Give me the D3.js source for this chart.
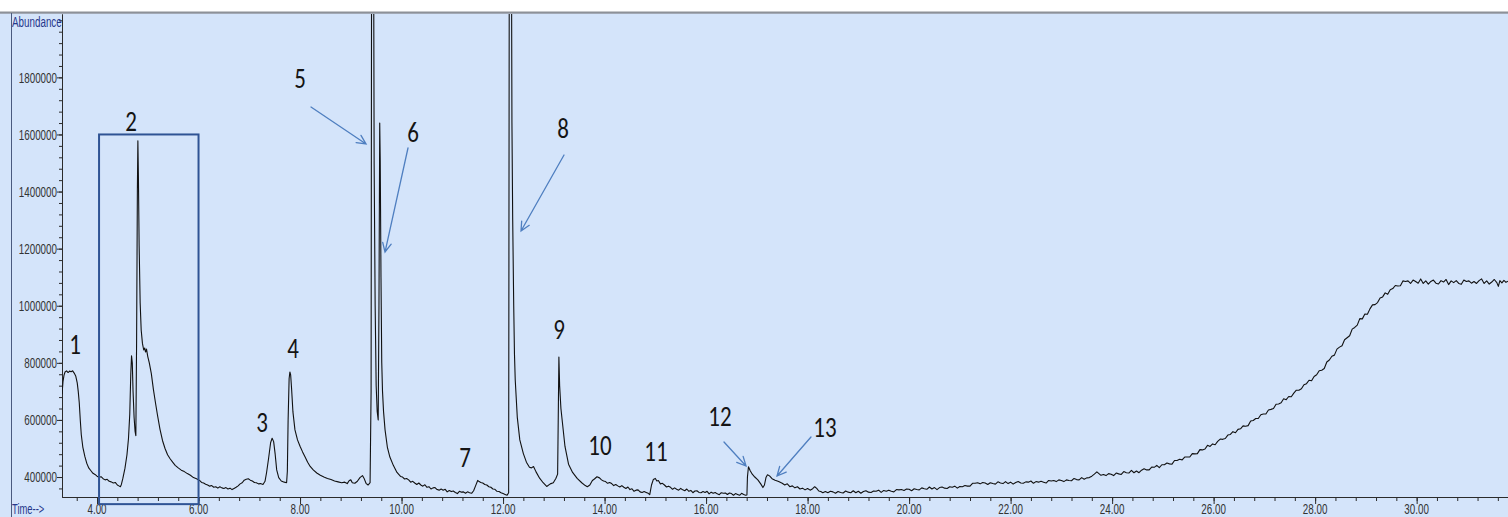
<!DOCTYPE html>
<html>
<head>
<meta charset="utf-8">
<script src="https://cdn.jsdelivr.net/npm/d3@7"></script>
<style>
  html, body { margin: 0; padding: 0; background: #ffffff; overflow: hidden; }
  svg { display: block; }
</style>
</head>
<body>
<svg id="chart" width="1508" height="517"></svg>
<script>
// ---- Total ion chromatogram: retention time (min) vs abundance ----

// Solvent front and the boxed cluster (peaks 1 and 2)
const traceEarly = [
  [3.31,690000],[3.33,735000],[3.35,757000],[3.37,768000],[3.40,772000],[3.43,766000],[3.46,771000],
  [3.49,769000],[3.52,772000],[3.55,764000],[3.58,754000],[3.61,730000],[3.63,700000],[3.65,660000],
  [3.67,600000],[3.69,548000],[3.72,505000],[3.76,472000],[3.80,447000],[3.84,431000],[3.88,422000],
  [3.92,413000],[3.96,409000],[4.00,403000],[4.04,399000],[4.08,401000],[4.12,394000],[4.16,390000],
  [4.20,392000],[4.24,385000],[4.28,383000],[4.32,379000],[4.36,381000],[4.40,372000],[4.43,369000],
  [4.46,366000],[4.48,374000],[4.51,396000],[4.55,430000],[4.59,478000],[4.62,535000],[4.645,620000],
  [4.665,760000],[4.68,825000],[4.695,800000],[4.71,700000],[4.73,610000],[4.75,560000],[4.765,545000],
  [4.78,880000],[4.795,1400000],[4.805,1578000],[4.815,1460000],[4.83,1210000],[4.85,1010000],
  [4.87,915000],[4.895,868000],[4.92,845000],[4.94,852000],[4.955,838000],[4.975,848000],[5.00,822000],
  [5.03,800000],[5.07,762000],[5.11,708000],[5.15,662000],[5.19,618000],[5.24,568000],[5.29,528000],
  [5.34,500000],[5.39,478000],[5.44,464000],[5.49,452000],[5.54,441000],[5.60,432000],[5.66,424000],
  [5.72,419000],[5.78,412000],[5.84,406000],[5.90,398000],[5.96,394000]
];

// Peaks 3 and 4
const traceMid = [
  [6.02,388000],[6.06,381000],[6.10,379000],[6.14,375000],[6.18,372000],[6.22,368000],[6.26,370000],
  [6.30,364000],[6.34,366000],[6.38,361000],[6.42,366000],[6.46,362000],[6.50,360000],[6.54,363000],
  [6.58,358000],[6.62,361000],[6.66,356000],[6.70,360000],[6.74,364000],[6.78,369000],[6.82,376000],
  [6.86,380000],[6.90,389000],[6.94,392000],[6.98,394000],[7.02,389000],[7.06,386000],[7.10,381000],
  [7.14,380000],[7.18,376000],[7.22,377000],[7.27,374000],
  [7.31,385000],[7.34,415000],[7.38,465000],[7.42,520000],[7.45,536000],
  [7.48,524000],[7.51,480000],[7.54,425000],[7.58,398000],[7.63,386000],[7.69,382000],[7.735,380000],
  [7.75,420000],[7.765,600000],[7.785,745000],[7.80,768000],[7.815,758000],[7.835,705000],[7.86,628000],
  [7.90,565000],[7.95,530000],[8.00,508000],[8.05,488000],[8.10,470000],[8.15,452000],[8.20,437000],
  [8.26,425000],[8.33,414000],[8.40,406000],[8.47,400000],[8.54,395000],[8.61,391000],[8.68,386000],
  [8.75,383000],[8.82,380000],[8.88,382000],[8.93,377000],[8.97,388000],[9.00,390000],[9.03,380000],
  [9.08,378000],[9.13,385000],[9.18,398000],[9.23,405000],[9.26,396000],[9.30,378000],[9.34,372000],
  [9.38,380000]
];

// Peaks 5, 6 and 7
const traceMajor = [
  [9.40,700000],[9.412,2600000],[9.445,2600000],[9.46,1500000],[9.48,1000000],[9.50,720000],
  [9.52,630000],[9.54,600000],[9.555,1000000],[9.57,1640000],[9.58,1510000],[9.595,1100000],
  [9.61,800000],[9.625,700000],[9.645,630000],[9.675,565000],[9.72,505000],[9.77,470000],[9.84,440000],
  [9.91,416000],[9.98,402000],[10.02,400000],[10.06,393000],[10.10,395000],[10.14,390000],
  [10.18,382000],[10.22,385000],[10.26,379000],[10.30,374000],[10.34,379000],[10.38,372000],
  [10.42,368000],[10.46,373000],[10.50,364000],[10.54,366000],[10.58,358000],[10.62,362000],
  [10.66,363000],[10.70,356000],[10.74,354000],[10.78,358000],[10.82,354000],[10.86,357000],
  [10.90,348000],[10.94,353000],[10.98,349000],[11.02,351000],[11.06,346000],[11.10,342000],
  [11.14,350000],[11.18,347000],[11.22,348000],[11.26,343000],[11.30,348000],[11.34,345000],
  [11.38,343000],[11.42,352000],[11.46,370000],[11.50,388000],[11.53,384000],[11.56,381000],
  [11.60,379000],[11.64,374000],[11.68,372000],[11.72,366000],[11.76,364000],[11.80,358000],
  [11.84,357000],[11.88,350000],[11.92,349000],[11.96,345000],[12.00,342000],[12.04,339000],
  [12.08,336000]
];

// Peaks 8 to 11
const traceLate = [
  [12.11,345000],[12.125,2600000],[12.16,2600000],[12.175,1640000],[12.19,1300000],[12.21,1000000],
  [12.225,830000],[12.24,740000],[12.28,610000],[12.33,530000],[12.40,482000],[12.46,452000],
  [12.52,434000],[12.56,432000],[12.60,437000],[12.65,418000],[12.72,396000],[12.79,380000],
  [12.86,367000],[12.93,376000],[12.99,380000],[13.04,395000],[13.075,410000],[13.09,650000],
  [13.10,820000],[13.115,720000],[13.14,640000],[13.17,590000],[13.22,507000],[13.29,445000],
  [13.37,416000],[13.46,395000],[13.55,380000],[13.62,370000],[13.66,366000],[13.71,372000],
  [13.76,388000],[13.80,393000],[13.85,401000],[13.90,397000],[13.94,390000],[13.98,386000],
  [14.02,384000],[14.06,378000],[14.10,381000],[14.14,377000],[14.18,370000],[14.22,374000],
  [14.26,369000],[14.30,365000],[14.34,370000],[14.38,364000],[14.42,360000],[14.46,365000],
  [14.50,356000],[14.54,359000],[14.58,350000],[14.62,354000],[14.66,355000],[14.70,348000],
  [14.74,346000],[14.78,349000],[14.82,346000],[14.86,343000],[14.89,338000],[14.925,372000],
  [14.96,391000],[15.00,395000],[15.03,386000],[15.06,388000],[15.10,376000],[15.14,378000],
  [15.18,372000],[15.22,365000],[15.26,368000],[15.30,364000],[15.34,357000],[15.38,362000],
  [15.42,357000],[15.46,354000],[15.50,360000],[15.54,355000],[15.58,352000],[15.62,358000],
  [15.66,350000],[15.70,353000],[15.74,345000],[15.78,351000],[15.82,352000],[15.86,346000],
  [15.90,345000],[15.94,349000],[15.98,346000],[16.02,350000],[16.06,341000],[16.10,347000],
  [16.14,343000],[16.18,346000],[16.22,341000],[16.26,338000],[16.30,345000],[16.34,343000],
  [16.38,344000],[16.42,339000],[16.46,344000],[16.50,342000],[16.54,336000],[16.58,342000],
  [16.62,339000],[16.66,336000],[16.70,343000],[16.74,339000],[16.78,336000],[16.805,337000]
];

// Peaks 12 and 13
const traceSmallPeaks = [
  [16.815,400000],[16.835,436000],[16.87,422000],[16.91,410000],[16.96,400000],[17.02,390000],
  [17.08,375000],[17.12,363000],[17.15,372000],[17.18,398000],[17.21,408000],[17.25,404000],
  [17.30,394000],[17.36,389000],[17.43,384000]
];

// Rising baseline and plateau (values in thousands)
const traceTailK = [
  [17.50,378],[17.55,372],[17.60,376],[17.65,366],[17.70,369],[17.75,362],[17.80,366],[17.85,358],
  [17.90,361],[17.95,355],[18.00,360],[18.05,354],[18.10,359],[18.14,366],[18.18,360],[18.22,351],
  [18.26,349],[18.30,345],[18.35,349],[18.40,345],[18.45,350],[18.50,348],[18.55,343],[18.60,349],
  [18.65,346],[18.70,344],[18.75,351],[18.80,347],[18.85,345],[18.90,352],[18.95,345],[19.00,350],
  [19.05,343],[19.10,349],[19.15,352],[19.20,347],[19.25,346],[19.30,351],[19.35,350],[19.40,354],
  [19.45,346],[19.50,353],[19.55,350],[19.60,354],[19.65,350],[19.70,348],[19.75,356],[19.80,355],
  [19.85,356],[19.90,353],[19.95,358],[20.00,357],[20.05,352],[20.10,359],[20.15,356],[20.20,355],
  [20.25,362],[20.30,359],[20.35,357],[20.40,365],[20.45,358],[20.50,363],[20.55,356],[20.60,363],
  [20.65,365],[20.70,361],[20.75,360],[20.80,366],[20.85,364],[20.90,368],[20.95,361],[21.00,367],
  [21.05,366],[21.10,370],[21.15,368],[21.20,368],[21.25,378],[21.30,378],[21.35,380],[21.40,376],
  [21.45,381],[21.50,379],[21.55,374],[21.60,380],[21.65,377],[21.70,375],[21.75,383],[21.80,379],
  [21.85,377],[21.90,384],[21.95,377],[22.00,382],[22.05,375],[22.10,381],[22.15,384],[22.20,379],
  [22.25,378],[22.30,383],[22.35,382],[22.40,386],[22.45,378],[22.50,384],[22.55,382],[22.60,385],
  [22.65,382],[22.70,379],[22.75,388],[22.80,386],[22.85,388],[22.90,384],[22.95,390],[23.00,388],
  [23.05,384],[23.10,390],[23.15,388],[23.20,387],[23.25,395],[23.30,391],[23.35,390],[23.40,398],
  [23.45,392],[23.50,397],[23.55,398],[23.60,403],[23.65,410],[23.70,418],[23.74,412],[23.78,406],
  [23.83,409],[23.88,405],[23.93,412],[23.98,410],[24.03,405],[24.08,414],[24.13,411],[24.18,409],
  [24.23,419],[24.28,415],[24.33,414],[24.38,423],[24.43,415],[24.48,421],[24.53,415],[24.58,424],
  [24.63,429],[24.68,425],[24.73,425],[24.78,435],[24.83,434],[24.88,441],[24.93,433],[24.98,443],
  [25.03,443],[25.08,449],[25.13,446],[25.18,445],[25.23,458],[25.28,458],[25.33,462],[25.38,460],
  [25.43,470],[25.48,470],[25.53,470],[25.58,482],[25.63,481],[25.68,482],[25.73,496],[25.78,495],
  [25.83,498],[25.88,511],[25.93,507],[25.98,516],[26.03,513],[26.08,525],[26.13,533],[26.18,532],
  [26.23,535],[26.28,547],[26.33,549],[26.38,559],[26.43,555],[26.48,567],[26.53,569],[26.58,579],
  [26.63,578],[26.68,580],[26.73,596],[26.78,598],[26.83,605],[26.88,605],[26.93,618],[26.98,621],
  [27.03,621],[27.08,635],[27.13,637],[27.18,640],[27.23,655],[27.28,656],[27.33,660],[27.38,674],
  [27.43,671],[27.48,682],[27.53,681],[27.58,694],[27.63,704],[27.68,704],[27.73,709],[27.78,723],
  [27.83,727],[27.88,739],[27.93,737],[27.98,752],[28.03,758],[28.08,772],[28.13,774],[28.18,780],
  [28.23,803],[28.28,810],[28.33,823],[28.38,827],[28.43,848],[28.48,855],[28.53,860],[28.58,881],
  [28.63,888],[28.68,895],[28.73,918],[28.78,924],[28.83,932],[28.88,955],[28.93,954],[28.98,971],
  [29.03,970],[29.08,989],[29.13,1003],[29.18,1004],[29.23,1011],[29.28,1027],[29.33,1031],
  [29.38,1045],[29.43,1040],[29.48,1056],[29.53,1060],[29.58,1071],[29.63,1069],[29.68,1070],
  [29.73,1087],[29.78,1085],[29.83,1087],[29.88,1078],[29.93,1090],[29.98,1085],[30.03,1079],
  [30.08,1094],[30.13,1078],[30.18,1087],[30.23,1076],[30.28,1085],[30.33,1090],[30.38,1079],
  [30.43,1076],[30.48,1088],[30.53,1083],[30.58,1092],[30.63,1074],[30.68,1087],[30.73,1081],
  [30.78,1088],[30.83,1078],[30.88,1075],[30.93,1090],[30.98,1085],[31.03,1087],[31.08,1079],
  [31.13,1085],[31.18,1078],[31.23,1088],[31.28,1094],[31.33,1078],[31.38,1087],[31.43,1076],
  [31.48,1083],[31.53,1092],[31.58,1081],[31.61,1068],[31.64,1088],[31.68,1080],[31.72,1089],
  [31.76,1082],[31.80,1086]
];

// Axis tick labels
const yTickValues = [400000, 600000, 800000, 1000000, 1200000, 1400000, 1600000, 1800000];
const xTickValues = [4, 6, 8, 10, 12, 14, 16, 18, 20, 22, 24, 26, 28, 30];
const xTickLabels = ["4.00","6.00","8.00","10.00","12.00","14.00","16.00","18.00","20.00",
                     "22.00","24.00","26.00","28.00","30.00"];

// Peak numbers: [label, time, abundance]
const peakLabels = [
  ["1", 3.566, 869500], ["2", 4.669, 1650600], ["3", 7.251, 596200], ["4", 7.861, 855500],
  ["5", 7.999, 1801300], ["6", 10.226, 1612100], ["7", 11.250, 473600], ["8", 13.181, 1626100],
  ["9", 13.103, 922000], ["10", 13.910, 515700], ["11", 15.013, 494600], ["12", 16.274, 617200],
  ["13", 18.343, 578700]
];

// Pointer arrows: [fromTime, fromAbundance, toTime, toAbundance]
const pointerArrows = [
  [8.216, 1696200, 9.300, 1566600],
  [10.127, 1552600, 9.674, 1188200],
  [13.201, 1528000, 12.354, 1261800],
  [16.353, 522700, 16.787, 438600],
  [18.067, 540200, 17.398, 403600]
];

// Highlight box around the peak-2 cluster: [t0, t1, abundanceTop, abundanceBottom]
const clusterBox = [4.04, 6.0, 1600000, 305000];

// ---- Drawing ----
const W = 1508, H = 517;
const plot = { left: 62, right: 1508, top: 14, bottom: 497 };
const SX = 0.82, SY = 1.27; // glyph stretch for the small axis text

const x = d3.scaleLinear().domain([3.31, 31.80]).range([plot.left, plot.right]);
const y = d3.scaleLinear().domain([330000, 2022000]).range([plot.bottom, plot.top]);

const svg = d3.select("#chart");

// window background + frame
svg.append("rect").attr("x", 0).attr("y", 13).attr("width", W).attr("height", H - 13)
  .attr("fill", "#d4e4fa");
svg.append("rect").attr("x", 0).attr("y", 11.5).attr("width", W).attr("height", 2.2)
  .attr("fill", "#8d9198");
svg.append("line").attr("x1", 11.5).attr("x2", 11.5).attr("y1", 13).attr("y2", H)
  .attr("stroke", "#4a5a7e").attr("stroke-width", 1);

// clip region for the trace
svg.append("clipPath").attr("id", "plotClip")
  .append("rect").attr("x", plot.left).attr("y", plot.top)
  .attr("width", plot.right - plot.left).attr("height", plot.bottom - plot.top);

// axes
const axisColor = "#2b2b2b";
const yMinor = d3.range(360000, 2022000, 40000);
const xMinor = d3.range(3.6, 31.81, 0.4);

function styleAxis(g) {
  g.selectAll("path,line").attr("stroke", axisColor).attr("stroke-width", 1);
  g.selectAll("text").remove();
}

svg.append("g").attr("transform", `translate(${plot.left},0)`)
  .call(d3.axisLeft(y).tickValues(yMinor).tickSize(3).tickSizeOuter(0).tickFormat(""))
  .call(styleAxis);
svg.append("g").attr("transform", `translate(${plot.left},0)`)
  .call(d3.axisLeft(y).tickValues(yTickValues).tickSize(5).tickSizeOuter(0).tickFormat(""))
  .call(styleAxis);
svg.append("g").attr("transform", `translate(0,${plot.bottom})`)
  .call(d3.axisBottom(x).tickValues(xMinor).tickSize(4).tickSizeOuter(0).tickFormat(""))
  .call(styleAxis);
svg.append("g").attr("transform", `translate(0,${plot.bottom})`)
  .call(d3.axisBottom(x).tickValues(xTickValues).tickSize(7).tickSizeOuter(0).tickFormat(""))
  .call(styleAxis);

const labelFont = "'Liberation Sans', Arial, sans-serif";

// y tick labels
svg.append("g").selectAll("text").data(yTickValues).join("text")
  .attr("transform", d => `translate(${plot.left - 5},${y(d)}) scale(${SX},${SY})`)
  .attr("dy", "0.35em").attr("text-anchor", "end")
  .attr("font-family", labelFont).attr("font-size", 12).attr("fill", "#333")
  .text(d => d);

// x tick labels
svg.append("g").selectAll("text").data(xTickValues).join("text")
  .attr("transform", d => `translate(${x(d)},513.5) scale(${SX},1.22)`)
  .attr("text-anchor", "middle")
  .attr("font-family", labelFont).attr("font-size", 12).attr("fill", "#333")
  .text((d, i) => xTickLabels[i]);

// axis titles
svg.append("text").attr("transform", `translate(12,27) scale(${SX},${SY})`)
  .attr("font-family", labelFont).attr("font-size", 12).attr("fill", "#26378a")
  .text("Abundance");
svg.append("text").attr("transform", `translate(12,513.5) scale(${SX},1.22)`)
  .attr("font-family", labelFont).attr("font-size", 11.5).attr("fill", "#26378a")
  .text("Time-->");

// chromatogram trace
const trace = [].concat(traceEarly, traceMid, traceMajor, traceLate, traceSmallPeaks,
  traceTailK.map(d => [d[0], d[1] * 1000]));
svg.append("path").datum(trace)
  .attr("clip-path", "url(#plotClip)")
  .attr("fill", "none").attr("stroke", "#111").attr("stroke-width", 1.1)
  .attr("stroke-linejoin", "round")
  .attr("d", d3.line().x(d => x(d[0])).y(d => y(d[1])));

// highlight box
svg.append("rect")
  .attr("x", x(clusterBox[0])).attr("y", y(clusterBox[2]))
  .attr("width", x(clusterBox[1]) - x(clusterBox[0]))
  .attr("height", y(clusterBox[3]) - y(clusterBox[2]))
  .attr("fill", "none").attr("stroke", "#2f5394").attr("stroke-width", 2);

// pointer arrows
const arrowColor = "#4f7fc0";
const arrows = svg.append("g").attr("stroke", arrowColor).attr("stroke-width", 1.3)
  .attr("fill", "none").attr("stroke-linecap", "round");
pointerArrows.forEach(([t0, v0, t1, v1]) => {
  const x0 = x(t0), y0 = y(v0), x1 = x(t1), y1 = y(v1);
  const ang = Math.atan2(y1 - y0, x1 - x0);
  const len = 10, spread = 0.45;
  const a1 = [x1 - len * Math.cos(ang - spread), y1 - len * Math.sin(ang - spread)];
  const a2 = [x1 - len * Math.cos(ang + spread), y1 - len * Math.sin(ang + spread)];
  arrows.append("path").attr("d", `M${x0},${y0}L${x1},${y1}M${a1[0]},${a1[1]}L${x1},${y1}L${a2[0]},${a2[1]}`);
});

// peak numbers
svg.append("g").selectAll("text").data(peakLabels).join("text")
  .attr("transform", d => `translate(${x(d[1])},${y(d[2])}) scale(1,${SY})`)
  .attr("dy", "0.36em").attr("text-anchor", "middle")
  .attr("font-family", "Carlito, Lato, 'Open Sans', sans-serif").attr("font-size", 23)
  .attr("fill", "#141414")
  .text(d => d[0]);
</script>
</body>
</html>
